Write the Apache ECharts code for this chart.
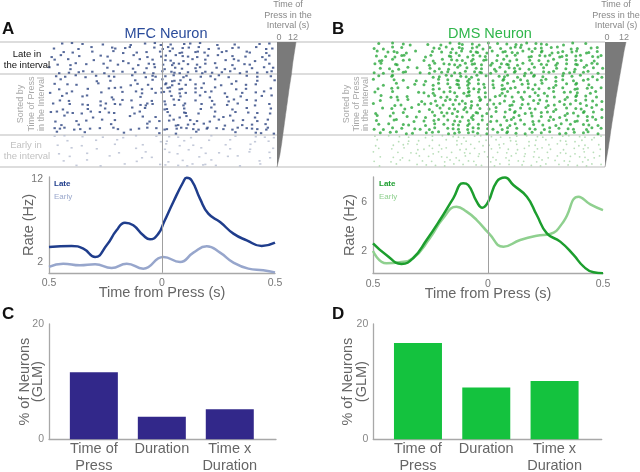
<!DOCTYPE html>
<html><head><meta charset="utf-8">
<script src="https://cdn.jsdelivr.net/npm/echarts@6/dist/echarts.min.js"></script>
<style>html,body{margin:0;padding:0;background:#fff}#c{width:640px;height:472px}</style>
</head><body><div id="c"></div>
<script>
// ---------------- data ----------------
const xTicks = [-0.5, 0, 0.5];
const rateTicksA = [2, 12];
const rateTicksB = [2, 6];
const barTicks = [0, 20];
const barCats = ['Time of\nPress', 'Duration', 'Time x\nDuration'];
const barPos = [0, 1, 2];
const mfcBars = [11.65, 3.9, 5.2];
const dmsBars = [16.7, 8.97, 10.1];

const mfcLate = [[-0.5,3.8],[-0.4,3.92],[-0.348,3.6],[-0.296,2.6],[-0.245,4.0],[-0.201,5.8],[-0.164,6.72],[-0.127,6.4],[-0.083,5.2],[-0.053,4.72],[-0.016,5.4],[0.009,6.8],[0.05,9.2],[0.094,11.6],[0.109,12.1],[0.131,11.8],[0.168,9.6],[0.205,7.8],[0.257,6.8],[0.316,5.4],[0.375,4.6],[0.441,3.92],[0.5,4.32]];
const mfcEarly = [[-0.5,1.4],[-0.437,1.8],[-0.363,1.6],[-0.296,1.72],[-0.223,1.28],[-0.156,1.8],[-0.083,1.2],[0.006,2.6],[0.08,2.0],[0.139,3.12],[0.198,3.88],[0.257,3.12],[0.316,1.92],[0.382,1.2],[0.448,1.0],[0.5,0.75]];
const dmsLate = [[-0.5,2.62],[-0.442,1.68],[-0.376,0.95],[-0.326,1.41],[-0.267,2.89],[-0.209,4.51],[-0.151,6.27],[-0.108,7.49],[-0.086,7.35],[-0.049,6.0],[-0.025,5.51],[0.001,6.0],[0.038,7.62],[0.074,7.95],[0.11,7.35],[0.169,6.4],[0.212,4.92],[0.256,3.43],[0.314,2.76],[0.372,1.68],[0.416,0.73],[0.459,0.27],[0.5,0.2]];
const dmsEarly = [[-0.5,2.0],[-0.442,1.0],[-0.384,1.08],[-0.326,1.41],[-0.253,3.03],[-0.195,4.65],[-0.137,5.59],[-0.093,5.19],[-0.049,4.51],[0.004,3.43],[0.067,2.35],[0.14,2.89],[0.212,3.24],[0.27,3.38],[0.328,4.38],[0.394,6.4],[0.445,5.78],[0.5,5.32]];

// time of press in the interval (s), top (late) to bottom (early)
const pressA = [12,11.6,11.2,10.8,10.4,10.0,9.7,9.4,9.1,8.7,8.3,7.9,7.5,7.2,6.8,6.5,6.1,5.8,5.4,5.1,4.7,4.4,4.0,3.7,3.3,3.0,2.6,2.2,1.8,1.2,0.6,0];
const pressB = [12,11.5,11.0,10.6,10.2,9.8,9.4,9.0,8.6,8.2,7.8,7.4,7.0,6.6,6.2,5.9,5.5,5.1,4.8,4.4,4.0,3.7,3.3,3.0,2.7,2.3,2.0,1.6,1.2,0.8,0.4,0];

// spike rasters: one string per trial over -0.5..0.5 s; a letter = spike, a..e = position inside the bin
const mfcRows = [
"...c..a.e.....b......d...c..ad..b..e.c..a...d....b.....e..c.",
".b.....d...a....cb.e.a.....c.d.ab.e.c..a.d..b..e.c....a.d.b",
"...e..b....c.....a.d...b.e...c..a.db..ec.b...e.a....cb...d..",
"d..a...e.....c.b......a..d...bc..ae.b.d..c..a..e...b...d.c.",
".c...a.....e....b..d....a..c..e.b..d..a..c....e..ab...d..c..",
"..b..d.a.e....c...b..a.d..ce..b.dac.e..b.c..a...d..e.b....c.",
"a....d.........c......b..e..a.d..c.b..e.a...c.d..b...e...a.c",
"..d..b.e.a.c..d..a.c..e..b.d..a.cbd.e..adc.b.e..a.d.c..b.e.a",
".e..b..a.d..c..e.b....a..d.cb.e..a.dc...b.e..a.d....c..b..e.",
"...a........d...b.....e....c..a.dbe..c......a....d.....b...e",
".c..e..b.....a.......d.c..b...ead.c.b.e..a...d..c...b.e.....",
"..d.......b....e.c.a....d..b.e.ca.db..e.c...a....d..b.....e.",
"b...d.a......e.....c...ad...bec.a.d.b.e..c.a..d....b..e..a..",
"...c....e.a.....d.......b.......c.e.....a.d....b..e.....c..a",
"..e..b.......d...a.c.e.....b..d..ac...e....b...d.a..c.e.....",
".a...c..e.b..d.a.ce.....bdac..e..b.da...c..e...b..a...d...c.",
"...d......b...e.......a..c....db...e....b..a....d...c.....e.",
"c.a.e.b.d..a.c.e.b....d.a......c...eb..d....a....c..e..b..d.",
"....a......d.........c..e...b...a.d.c......e..b.a.....d.....",
".d.....b.e....a..c........d..b.e.a...c.b..d..a..e..c...b..a.",
"...b...e........c.........a......db.e.c..a....d....b.e...c..",
".ce.a.d.b.e..c...ab..d.e..a.c.db.e.ac.bd.ea.c.b.d.a.ce.b.da.",
"..a......c.........e.........b...d.....a.........c....e.b..d",
".c..a...e.....b....d...a....c..e..b..d.....a.....c....e..b.d",
"....e.......c.....a..........d.b...e......c.....a.....d...b.",
"..b.....d........c......e......a..d...b.......e......c......",
"......a.....e..........c.......b.....d...a......e.....b.....c",
"..d.......b.......e.......a.....c.d.......b..e........a....c.",
".....c..........a.......d..b...........e.......c..a.......d.",
"...e......a............b.......d...c.......a...........e....",
".......b.....d......a........ce...b.d.a.ec..b.....d.....a..."
];
const dmsRows = [
".c...a.e.d....b..d..a.cb.e.d..a.c.e..bd.a.ce.b...d..a..c....",
"b.d..a.c.......e.b.ad.cb.e.ad.c..b.e.ac.d.be..c.a..d.b..e.c.",
".a.e.cb.d..a...c.e..bd.a.ceb.d.a.ec.bd.a.c.ea.d.bc.e.a.db.c.",
"e..b.d.ca....d.a...eb.c.d.ae.b..c.e..a..db.ce.a.dbc.e.a..bdc",
".db..a.e.c...b.d..a.ce.b.da.ec..b.ad.c..e..b.d.a..c.e.b..d..",
"c.a..eb.......d.a.ce.bd.aec.b.da.ceb.d.a.c.e.b.da.c.eb.d.ac.",
".e..b.d..a.c..e..b.d..a.c.e.b..d.a.ce.b.d.a.c..e..b.d..a.c.e",
"b.d..a.ec...b.d.ae.c.bd.a.ceb.d.a.c.ea.d.b..ce.a.d.bc.e.a.d.",
".c..ea.........d.b.ac.e.bd.a.c..e.ba.d.c.ea.b..d.c.e..a..b.d",
"a....c.e...b.d...a.c.eb.da.c...b.ea.d.c.b..e.a.d.c..b.e.a.c.",
"..d...a...e..b.d.a.c.eb.da.ce..b.d.a..e.c.b.a..d..c.ea..b...",
".b..e.c..a.....d.b..a.c.e.bd.a.c.dbe.a..cd.b.e.a.c..db.e.a.c",
"c....a.....e.b.d..c.ab.dea.c.b...d.a.e.c..b.d..a.e.c.b..d.a.",
"..a.d.b.e.....c.ad.b.e..ca.d.b.e.ac.b.d.e..a.c.b..d.ea.c..b.",
".e....c..a..d...b.e.ac.b.d.ea.c...b.d..a.e.c.b..d.a.e..c.b.d",
"a....d.b...e.c.ad.b.e.c.ad.b.e.c.a.db.e.c..a.d.b.e.c..ad..b.",
"..c.e...b.a...d..c.e.b.dac.e..b.a..d..c.e.b..a.d..c.e.b..a.d",
"d....b.e....a..c.e.bd.a.c.eb.d..a.c.ea.d.b.e.c.a..d.b.ea.c..",
".a..c...e..b.d..a.c..e.b.da.c.e...b.d.a..c.e..b.d.a..c.e.b.d",
"e....ca...d..b.e.a.c.bd.e.a.c.d.b.e.a.c..d.b.e.a..c.db.e..a.",
".c..a..e.b...d..a.c.e.b.da.c.e...b.d.a.c.e..b..d.a.c..e.b.d.",
"b.d..a.c..e.b.d.a..ce.b.d.ac.e.b.d.a.c..e.b.d.a.c.e.b..d.a.c",
".e..c.a.d.b..e.c.a.d.bc.e.ab.d..c.ea.b.d.c.e..a.d.b.c.e.a.d.",
"c...a.e..b...d.c..a.e.bd..c.a.e..b.d.c..a.e.b.d..c.a.e.b.d.c",
".a....d..b.e...c...a.e..b..d.c..a..e.b..d.c..a..e.b.d.c..a..",
"d....b.e.a.c..d..b...e.a.c..d.b.e.a..c..d.b..e..a.c..d.b..e.",
".c..e...a..d.b.c.e.a..d.b.c...e..a.b.d.c..e.a.b..d..c.e.a..b",
"a.....c..e.b...d.a..c..e.b.d.a..c.e..b.d..a..c..e.b.d..a.c..",
".e...b.d....a.c..e.b.d..a..c.e.b..d.a..c.e.b.d..a..c.e.b.d.a",
"b...d..a.c..e..b..d.a.c.e.b...d.a..c.e.b..d.a..c.e.b..d.a...",
".d....a....c.e..b.d..a.c..e.b..d.a.c..e..b.d.a..c.e..b.d.a.c"
];
const earlyStart = 23;

// ---------------- build ----------------
const FF = '"Liberation Sans", Arial, Helvetica, sans-serif';
function spikes(rows, from, to) {
  const pts = [];
  for (let r = from; r < to; r++) {
    const s = rows[r];
    for (let i = 0; i < s.length; i++) {
      const k = s.charCodeAt(i) - 97;
      if (k < 0 || k > 4) continue;
      pts.push([-0.5 + (i + (k + 0.5) / 5) / s.length, r + 0.5 + (((k * 3) % 5) - 2) * 0.12]);
    }
  }
  return pts;
}
const rowIdx = pressA.map((_, i) => i);
const axCol = '#a8a8a8';
const zeroLine = { silent: true, symbol: 'none', label: { show: false }, lineStyle: { color: '#a0a0a0', width: 1, type: 'solid' }, data: [{ xAxis: 0 }] };

function hiddenX(g, min, max) { return { gridIndex: g, type: 'value', min, max, show: false }; }
function hiddenY(g, min, max) { return { gridIndex: g, type: 'value', min, max, inverse: true, show: false }; }
function wedgeY(g) { return { gridIndex: g, type: 'category', data: rowIdx, boundaryGap: false, inverse: true, show: false }; }
const line = { show: true, onZero: false, lineStyle: { color: axCol, width: 1.3 } };
function rateX(g) {
  return { gridIndex: g, type: 'value', min: -0.5, max: 0.5,
    axisLine: line, axisTick: { show: false }, splitLine: { show: false },
    axisLabel: { customValues: xTicks, formatter: v => String(Math.abs(v)), color: '#777', fontSize: 10.5, fontFamily: FF, margin: 5 },
    name: 'Time from Press (s)', nameLocation: 'middle', nameGap: 13, nameMoveOverlap: false,
    nameTextStyle: { fontSize: 14.5, color: '#666', fontFamily: FF } };
}
function rateY(g, min, max, ticks, gap) {
  return { gridIndex: g, type: 'value', min, max,
    axisLine: line, axisTick: { show: false }, splitLine: { show: false },
    axisLabel: { customValues: ticks, color: '#777', fontSize: 10.5, fontFamily: FF, margin: 6 },
    name: 'Rate (Hz)', nameLocation: 'middle', nameGap: gap, nameMoveOverlap: false,
    nameTextStyle: { fontSize: 14.5, color: '#666', fontFamily: FF } };
}
function barX(g, min, max) {
  return { gridIndex: g, type: 'value', min, max,
    axisLine: line, axisTick: { show: false }, splitLine: { show: false },
    axisLabel: { customValues: barPos, formatter: v => barCats[Math.round(v)], color: '#666', fontSize: 14.5, lineHeight: 17, fontFamily: FF, margin: 1 } };
}
function barY(g, gap) {
  return { gridIndex: g, type: 'value', min: 0, max: 20,
    axisLine: line, axisTick: { show: false }, splitLine: { show: false },
    axisLabel: { customValues: barTicks, color: '#888', fontSize: 10.5, fontFamily: FF, margin: 5, verticalAlign: 'middle', padding: [0, 0, 5, 0] },
    name: '% of Neurons\n(GLM)', nameLocation: 'middle', nameGap: gap, nameMoveOverlap: false,
    nameTextStyle: { fontSize: 14.5, lineHeight: 13.5, color: '#666', fontFamily: FF } };
}
function txt(text, x, y, o) {
  return { type: 'text', z: 10, x: x, y: y, rotation: (o && o.rot) || 0, style: Object.assign({ text, x: 0, y: 0, fontFamily: FF, fontSize: 9, fill: '#888', align: 'center', verticalAlign: 'middle' }, o || {}) };
}
const graphics = [];
[42, 74, 135, 167].forEach(y => graphics.push({ type: 'line', z: -1, shape: { x1: 0, y1: y, x2: 605, y2: y }, style: { stroke: '#d2d2d2', lineWidth: 1.4 } }));
graphics.push(
  txt('A', 2, 29, { fontSize: 17, fontWeight: 'bold', fill: '#111', align: 'left' }),
  txt('B', 332, 29, { fontSize: 17, fontWeight: 'bold', fill: '#111', align: 'left' }),
  txt('C', 2, 314, { fontSize: 17, fontWeight: 'bold', fill: '#111', align: 'left' }),
  txt('D', 332, 314, { fontSize: 17, fontWeight: 'bold', fill: '#111', align: 'left' }),
  txt('MFC Neuron', 166, 34, { fontSize: 14.5, fill: '#2b4c9b' }),
  txt('DMS Neuron', 490, 34, { fontSize: 14.5, fill: '#2fb64b' }),
  txt('Time of', 288, 5), txt('Press in the', 288, 15.7), txt('Interval (s)', 288, 26),
  txt('0', 279, 37.7), txt('12', 293, 37.7),
  txt('Time of', 616, 5), txt('Press in the', 616, 15.7), txt('Interval (s)', 616, 26),
  txt('0', 607, 37.7), txt('12', 624, 37.7),
  txt('Late in', 27, 54, { fontSize: 9.5, fill: '#111' }), txt('the interval', 27, 65, { fontSize: 9.5, fill: '#111' }),
  txt('Early in', 26, 145.7, { fontSize: 9.5, fill: '#c2c2c2' }), txt('the interval', 27, 156.7, { fontSize: 9.5, fill: '#c2c2c2' }),
  txt('Sorted by', 20.5, 104, { rot: Math.PI / 2, fill: '#a8a8a8' }),
  txt('Time of Press', 31.5, 104, { rot: Math.PI / 2, fill: '#a8a8a8' }),
  txt('in the Interval', 41.5, 104, { rot: Math.PI / 2, fill: '#a8a8a8' }),
  txt('Sorted by', 347, 104, { rot: Math.PI / 2, fill: '#a8a8a8' }),
  txt('Time of Press', 356.5, 104, { rot: Math.PI / 2, fill: '#a8a8a8' }),
  txt('in the Interval', 366, 104, { rot: Math.PI / 2, fill: '#a8a8a8' }),
  txt('Late', 54, 184, { fontSize: 8, fontWeight: 'bold', fill: '#1f3d8c', align: 'left' }),
  txt('Early', 54, 197, { fontSize: 8, fill: '#9aa8cc', align: 'left' }),
  txt('Late', 379, 184, { fontSize: 8, fontWeight: 'bold', fill: '#1c9e2e', align: 'left' }),
  txt('Early', 379, 197, { fontSize: 8, fill: '#8fd08f', align: 'left' })
);

function g(left, width, top, height) { return { left, width, top, height, outerBoundsMode: 'none', containLabel: false }; }
const option = {
  animation: false,
  backgroundColor: '#fff',
  grid: [
    g(49, 226, 42, 135),
    g(277, 19, 42, 125),
    g(49, 226, 177, 95.8),
    g(49, 227, 324, 115.3),
    g(373, 230, 42, 135),
    g(605, 21, 42, 125),
    g(373, 230, 177, 96.2),
    g(373.3, 228.4, 324, 115.3)
  ],
  xAxis: [
    hiddenX(0, -0.5, 0.5), hiddenX(1, 0, 12), rateX(2), barX(3, -0.66, 2.68),
    hiddenX(4, -0.5, 0.5), hiddenX(5, 0, 12), rateX(6), barX(7, -0.654, 2.69)
  ],
  yAxis: [
    hiddenY(0, 0, 33.5), wedgeY(1), rateY(2, 0.7, 12.2, rateTicksA, 13), barY(3, 4),
    hiddenY(4, 0, 33.5), wedgeY(5), rateY(6, 0.2, 8.0, rateTicksB, 16), barY(7, 5)
  ],
  series: [
    { type: 'scatter', xAxisIndex: 0, yAxisIndex: 0, data: spikes(mfcRows, 0, earlyStart), symbol: 'rect', symbolSize: [2.4, 2], itemStyle: { color: '#2a4280' }, markLine: zeroLine },
    { type: 'scatter', xAxisIndex: 0, yAxisIndex: 0, data: spikes(mfcRows, earlyStart, mfcRows.length), symbol: 'rect', symbolSize: [2.2, 1.6], itemStyle: { color: '#b4bccf' } },
    { type: 'line', xAxisIndex: 1, yAxisIndex: 1, data: pressA, symbol: 'none', lineStyle: { color: '#7a7a7a', width: 0.5 }, areaStyle: { color: '#7a7a7a', opacity: 1 } },
    { type: 'line', xAxisIndex: 2, yAxisIndex: 2, data: mfcEarly, smooth: 0.5, symbol: 'none', lineStyle: { color: '#97a6cc', width: 2.5 }, z: 3 },
    { type: 'line', xAxisIndex: 2, yAxisIndex: 2, data: mfcLate, smooth: 0.5, symbol: 'none', lineStyle: { color: '#1f3d8c', width: 2.5 }, z: 4, markLine: zeroLine },
    { type: 'bar', xAxisIndex: 3, yAxisIndex: 3, data: barPos.map((p, i) => [p, mfcBars[i]]), barWidth: 48, itemStyle: { color: '#32288a' } },
    { type: 'scatter', xAxisIndex: 4, yAxisIndex: 4, data: spikes(dmsRows, 0, earlyStart), symbol: 'circle', symbolSize: 3, itemStyle: { color: '#2aa83c' }, markLine: zeroLine },
    { type: 'scatter', xAxisIndex: 4, yAxisIndex: 4, data: spikes(dmsRows, earlyStart, dmsRows.length), symbol: 'circle', symbolSize: 1.8, itemStyle: { color: '#a6d6a6' } },
    { type: 'line', xAxisIndex: 5, yAxisIndex: 5, data: pressB, symbol: 'none', lineStyle: { color: '#7a7a7a', width: 0.5 }, areaStyle: { color: '#7a7a7a', opacity: 1 } },
    { type: 'line', xAxisIndex: 6, yAxisIndex: 6, data: dmsEarly, smooth: 0.5, symbol: 'none', lineStyle: { color: '#8fd08f', width: 2.5 }, z: 3 },
    { type: 'line', xAxisIndex: 6, yAxisIndex: 6, data: dmsLate, smooth: 0.5, symbol: 'none', lineStyle: { color: '#1c9e2e', width: 2.5 }, z: 4, markLine: zeroLine },
    { type: 'bar', xAxisIndex: 7, yAxisIndex: 7, data: barPos.map((p, i) => [p, dmsBars[i]]), barWidth: 48, itemStyle: { color: '#14c23e' } }
  ],
  graphic: graphics
};
const chart = echarts.init(document.getElementById('c'), null, { renderer: 'canvas' });
chart.setOption(option);
</script></body></html>
